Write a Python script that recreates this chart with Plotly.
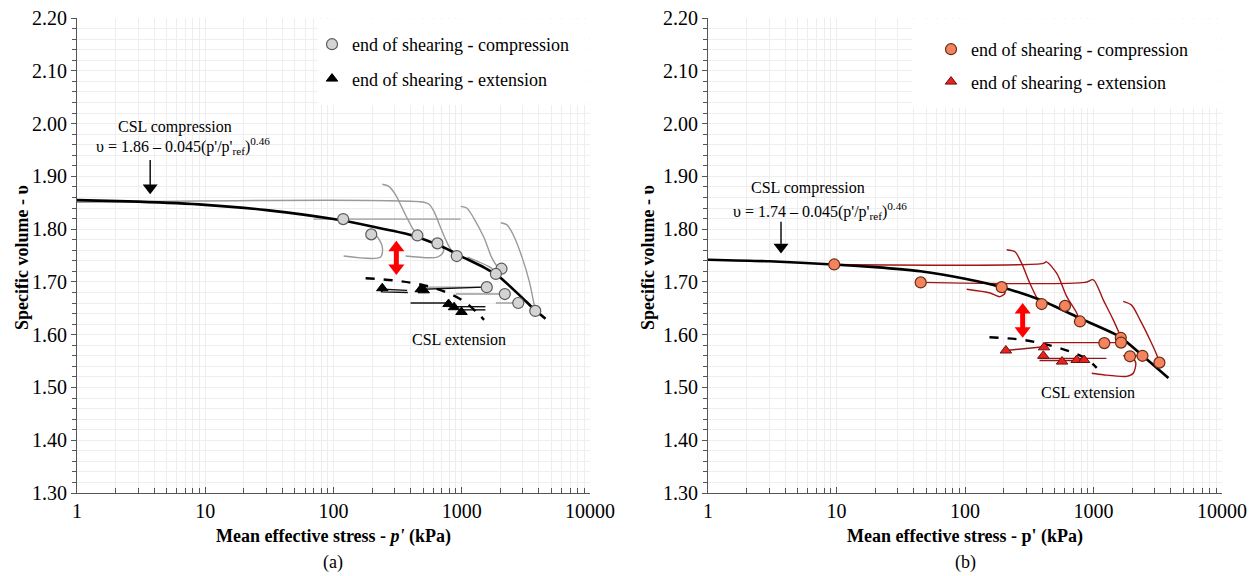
import plotly.graph_objects as go

FONT = "Liberation Serif"

# ---------------- data: panel (a) ----------------
csl_a_p = [1, 3, 10, 30, 100, 200, 400, 700, 1000, 1500, 2000, 2900, 3600, 4500]
csl_a_v = [1.855, 1.852, 1.846, 1.836, 1.819, 1.805, 1.789, 1.767, 1.748, 1.727, 1.708, 1.672, 1.650, 1.630]
csle_a_p = [178, 315, 479, 728, 1042, 1327, 1493]
csle_a_v = [1.707, 1.702, 1.695, 1.682, 1.663, 1.641, 1.628]
comp_a_p = [119, 197, 451, 646, 914, 2042, 1845, 1567, 2167, 2757, 3742]
comp_a_v = [1.819, 1.790, 1.788, 1.773, 1.749, 1.725, 1.715, 1.690, 1.677, 1.660, 1.645]
ext_a_p = [240, 479, 505, 789, 871, 995]
ext_a_v = [1.688, 1.686, 1.684, 1.658, 1.652, 1.643]
paths_comp_a_p = [
    [1, 508, 556, 608, 686, 773, 871, 914],
    [980, 70],
    [240, 270, 305, 354, 412, 451],
    [120, 233, 240, 218, 197],
    [365, 646, 719, 707, 646],
    [982, 1093, 1240, 1496, 1720, 1950, 2042],
    [1109, 1700, 1845],
    [2017, 2254, 2557, 2967, 3361, 3673, 3742],
    [510, 1567],
    [897, 2167],
    [1845, 2757],
]
paths_comp_a_v = [
    [1.851, 1.851, 1.847, 1.833, 1.802, 1.773, 1.752, 1.749],
    [1.819, 1.819],
    [1.885, 1.881, 1.865, 1.833, 1.802, 1.788],
    [1.749, 1.747, 1.767, 1.786, 1.790],
    [1.749, 1.747, 1.757, 1.770, 1.773],
    [1.843, 1.840, 1.821, 1.783, 1.745, 1.726, 1.725],
    [1.747, 1.726, 1.715],
    [1.812, 1.808, 1.786, 1.745, 1.701, 1.656, 1.645],
    [1.690, 1.690],
    [1.677, 1.677],
    [1.660, 1.660],
]
paths_ext_a_p = [[375, 245, 235, 380], [493, 1493], [399, 789], [871, 1530], [995, 1530]]
paths_ext_a_v = [[1.684, 1.686, 1.681, 1.680], [1.686, 1.690], [1.660, 1.660], [1.653, 1.653], [1.647, 1.647]]

# ---------------- data: panel (b) ----------------
csl_b_p = [1, 3, 9.4, 20, 45, 100, 193, 383, 785, 1608, 2442, 3828]
csl_b_v = [1.742, 1.739, 1.733, 1.728, 1.720, 1.706, 1.690, 1.666, 1.631, 1.596, 1.559, 1.518]
csle_b_p = [155, 284, 433, 656, 885, 1059]
csle_b_v = [1.595, 1.590, 1.581, 1.568, 1.554, 1.537]
comp_b_p = [9.6, 45.2, 193, 395, 600, 785, 1630, 1214, 1637, 1923, 2404, 3258]
comp_b_v = [1.733, 1.699, 1.690, 1.658, 1.6545, 1.625, 1.594, 1.584, 1.585, 1.559, 1.560, 1.547]
ext_b_p = [208, 412, 407, 569, 740, 845]
ext_b_v = [1.570, 1.576, 1.560, 1.549, 1.552, 1.552]
paths_comp_b_p = [
    [9.6, 406, 430, 518, 620, 740, 785],
    [45.2, 859, 997, 1191, 1425, 1630],
    [103, 157, 187, 205, 198, 193],
    [211, 245, 276, 319, 370, 395],
    [1702, 1977, 2301, 2754, 3104, 3258],
    [420, 1637],
    [969, 1191, 1808, 2038, 2135, 2038, 1923],
    [1700, 2404],
]
paths_comp_b_v = [
    [1.733, 1.735, 1.738, 1.716, 1.672, 1.641, 1.625],
    [1.699, 1.699, 1.704, 1.666, 1.628, 1.596],
    [1.686, 1.679, 1.672, 1.679, 1.688, 1.690],
    [1.761, 1.757, 1.735, 1.698, 1.666, 1.658],
    [1.663, 1.656, 1.628, 1.590, 1.562, 1.547],
    [1.585, 1.585],
    [1.527, 1.524, 1.521, 1.527, 1.546, 1.555, 1.559],
    [1.560, 1.560],
]
paths_ext_b_p = [[208, 412], [372, 1260], [380, 850]]
paths_ext_b_v = [[1.570, 1.577], [1.555, 1.555], [1.551, 1.551]]

# arrows: (p, tip v, tail v) and (p, upper tip v, lower tip v)
csl_arrow_a = (3.72, 1.866, 1.931)
csl_arrow_b = (3.70, 1.754, 1.814)
gap_arrow_a = (309, 1.778, 1.713)
gap_arrow_b = (281, 1.660, 1.594)

# ---------------- tick labels ----------------
x_ticks = [1, 10, 100, 1000, 10000]
x_tick_text = ["1", "10", "100", "1000", "10000"]
x_minor = [m * 10 ** d for d in range(4) for m in range(2, 10)]
y_ticks = [1.30, 1.40, 1.50, 1.60, 1.70, 1.80, 1.90, 2.00, 2.10, 2.20]
y_tick_text = ["1.30", "1.40", "1.50", "1.60", "1.70", "1.80", "1.90", "2.00", "2.10", "2.20"]

W, H = 1259, 576
OFF = 8              # page offset of the figure (body margin)
PX_V = 0.9 / 475.0   # specific-volume units per pixel

def px(x):
    return (x - OFF) / W
def py(y):
    return 1 - (y - OFF) / H

fig = go.Figure()

def add_panel(xa, ya, legend, paths_c_p, paths_c_v, path_c_color,
              paths_e_p, paths_e_v, path_e_color,
              csl_p, csl_v, csle_p, csle_v,
              cp, cv, c_fill, c_line, ep, ev, e_fill, e_line, gid,
              csl_arrow, gap_arrow):
    for p, v in zip(paths_c_p, paths_c_v):
        fig.add_trace(go.Scatter(x=p, y=v, mode="lines", xaxis=xa, yaxis=ya,
                                 line=dict(color=path_c_color, width=1.4, shape="spline", smoothing=0.8),
                                 showlegend=False, hoverinfo="skip"))
    for p, v in zip(paths_e_p, paths_e_v):
        fig.add_trace(go.Scatter(x=p, y=v, mode="lines", xaxis=xa, yaxis=ya,
                                 line=dict(color=path_e_color, width=1.4),
                                 showlegend=False, hoverinfo="skip"))
    fig.add_trace(go.Scatter(x=csl_p, y=csl_v, mode="lines", xaxis=xa, yaxis=ya,
                             line=dict(color="black", width=2.6, shape="spline", smoothing=0.6),
                             showlegend=False, hoverinfo="skip"))
    fig.add_trace(go.Scatter(x=csle_p, y=csle_v, mode="lines", xaxis=xa, yaxis=ya,
                             line=dict(color="black", width=2.4, dash="dash", shape="spline"),
                             showlegend=False, hoverinfo="skip"))
    ap, tip, tail = csl_arrow
    hs = 13
    cen = tip + hs / 2 * PX_V
    fig.add_trace(go.Scatter(x=[ap, ap], y=[tail, cen], mode="lines", xaxis=xa, yaxis=ya,
                             line=dict(color="black", width=1.4), showlegend=False, hoverinfo="skip"))
    fig.add_trace(go.Scatter(x=[ap], y=[cen], mode="markers", xaxis=xa, yaxis=ya,
                             marker=dict(symbol="triangle-down", size=hs, color="black", line=dict(width=0)),
                             showlegend=False, hoverinfo="skip"))
    gp, top, bot = gap_arrow
    hs2 = 14
    ctop = top - hs2 / 2 * PX_V
    cbot = bot + hs2 / 2 * PX_V
    fig.add_trace(go.Scatter(x=[gp, gp], y=[ctop, cbot], mode="lines", xaxis=xa, yaxis=ya,
                             line=dict(color="#ff0000", width=5), showlegend=False, hoverinfo="skip"))
    fig.add_trace(go.Scatter(x=[gp, gp], y=[ctop, cbot], mode="markers", xaxis=xa, yaxis=ya,
                             marker=dict(symbol=["triangle-up", "triangle-down"], size=hs2, color="#ff0000",
                                         line=dict(width=0)),
                             showlegend=False, hoverinfo="skip"))
    fig.add_trace(go.Scatter(x=cp, y=cv, mode="markers", xaxis=xa, yaxis=ya,
                             name="end of shearing - compression", legend=legend,
                             legendgroup="c" + gid,
                             marker=dict(symbol="circle", size=11, color=c_fill,
                                         line=dict(color=c_line, width=1.2))))
    fig.add_trace(go.Scatter(x=ep, y=ev, mode="markers", xaxis=xa, yaxis=ya,
                             name="end of shearing - extension", legend=legend,
                             legendgroup="e" + gid,
                             marker=dict(symbol="triangle-up", size=10, color=e_fill,
                                         line=dict(color=e_line, width=1))))

add_panel("x", "y", "legend", paths_comp_a_p, paths_comp_a_v, "#9a9a9a",
          paths_ext_a_p, paths_ext_a_v, "#111111",
          csl_a_p, csl_a_v, csle_a_p, csle_a_v,
          comp_a_p, comp_a_v, "#d4d4d4", "#5a5a5a", ext_a_p, ext_a_v, "black", "black", "a",
          csl_arrow_a, gap_arrow_a)
add_panel("x2", "y2", "legend2", paths_comp_b_p, paths_comp_b_v, "#a31515",
          paths_ext_b_p, paths_ext_b_v, "#8b1a1a",
          csl_b_p, csl_b_v, csle_b_p, csle_b_v,
          comp_b_p, comp_b_v, "#f3845e", "#6b2a14", ext_b_p, ext_b_v, "#e8231c", "#6b1010", "b",
          csl_arrow_b, gap_arrow_b)

grid_col = "#eeeeee"
tickfont = dict(family=FONT, size=20, color="black")
xcommon = dict(type="log", range=[0, 4], tickmode="array", tickvals=x_ticks, ticktext=x_tick_text,
               ticks="inside", ticklen=6, tickcolor="#555", showline=True, linecolor="#555", linewidth=1,
               showgrid=True, gridcolor=grid_col, gridwidth=1, zeroline=False, automargin=False,
               ticklabeloverflow="allow", tickfont=tickfont,
               minor=dict(tickmode="array", tickvals=x_minor, ticks="inside", ticklen=5, tickcolor="#555",
                          showgrid=True, gridcolor=grid_col, gridwidth=1))
ycommon = dict(range=[1.30, 2.20], tickmode="array", tickvals=y_ticks, ticktext=y_tick_text,
               ticks="outside", ticklen=5,
               tickcolor="#555", showline=True, linecolor="#555", linewidth=1, showgrid=True,
               gridcolor=grid_col, gridwidth=1, zeroline=False, automargin=False,
               ticklabeloverflow="allow", tickfont=tickfont,
               minor=dict(tickmode="linear", tick0=1.30, dtick=0.02, ticks="outside", ticklen=4,
                          tickcolor="#555", showgrid=True, gridcolor=grid_col, gridwidth=1))

ydom = [py(493), py(18)]
legfont = dict(family=FONT, size=18, color="black")
fig.update_layout(
    width=W, height=H, margin=dict(l=0, r=0, t=0, b=0, pad=0, autoexpand=False),
    paper_bgcolor="white", plot_bgcolor="white",
    font=dict(family=FONT, color="black"),
    xaxis=dict(domain=[px(77), px(590)], anchor="y", **xcommon),
    yaxis=dict(domain=ydom, anchor="x", **ycommon),
    xaxis2=dict(domain=[px(708), px(1222)], anchor="y2", **xcommon),
    yaxis2=dict(domain=ydom, anchor="x2", **ycommon),
    legend=dict(x=px(312), y=py(26), xanchor="left", yanchor="top", bgcolor="rgba(0,0,0,0)",
                font=legfont, tracegroupgap=8),
    legend2=dict(x=px(931), y=py(31), xanchor="left", yanchor="top", bgcolor="rgba(0,0,0,0)",
                 font=legfont, tracegroupgap=6),
    shapes=[
        dict(type="rect", xref="paper", yref="paper", x0=px(318), x1=px(589), y0=py(105), y1=py(19),
             fillcolor="white", line=dict(width=0), layer="above"),
        dict(type="rect", xref="paper", yref="paper", x0=px(912), x1=px(1221), y0=py(108), y1=py(19),
             fillcolor="white", line=dict(width=0), layer="above"),
    ],
)

ann = []
tfont = dict(family=FONT, size=18, color="black")
for cx, xt, lab in [(333, "Mean effective stress - <i>p'</i> (kPa)", "(a)"),
                    (965, "Mean effective stress - p' (kPa)", "(b)")]:
    ann.append(dict(xref="paper", yref="paper", x=px(cx), y=py(536), xanchor="center", yanchor="middle",
                    text="<b>" + xt + "</b>", showarrow=False, font=tfont))
    ann.append(dict(xref="paper", yref="paper", x=px(cx), y=py(562), xanchor="center", yanchor="middle",
                    text=lab, showarrow=False, font=tfont))
for cx in [22, 648]:
    ann.append(dict(xref="paper", yref="paper", x=px(cx), y=py(258), xanchor="center", yanchor="middle",
                    text="<b>Specific volume - υ</b>", textangle=-90, showarrow=False, font=tfont))

txt = dict(family=FONT, size=16, color="black")
ann += [
    dict(xref="x", yref="y", x=0.766, y=1.994, text="CSL compression", showarrow=False, font=txt,
         xanchor="center", yanchor="middle"),
    dict(xref="x", yref="y", x=0.828, y=1.958, xanchor="center", yanchor="middle",
         text="υ = 1.86 – 0.045(p'/p'<sub>ref</sub>)<sup>0.46</sup>", showarrow=False, font=txt),
    dict(xref="x", yref="y", x=2.977, y=1.590, text="CSL extension", showarrow=False, font=txt,
         xanchor="center", yanchor="middle"),
    dict(xref="x2", yref="y2", x=0.778, y=1.878, text="CSL compression", showarrow=False, font=txt,
         xanchor="center", yanchor="middle"),
    dict(xref="x2", yref="y2", x=0.872, y=1.835, xanchor="center", yanchor="middle",
         text="υ = 1.74 – 0.045(p'/p'<sub>ref</sub>)<sup>0.46</sup>", showarrow=False, font=txt),
    dict(xref="x2", yref="y2", x=2.957, y=1.490, text="CSL extension", showarrow=False, font=txt,
         xanchor="center", yanchor="middle"),
]
fig.update_layout(annotations=ann)

fig.write_html("out.html")
